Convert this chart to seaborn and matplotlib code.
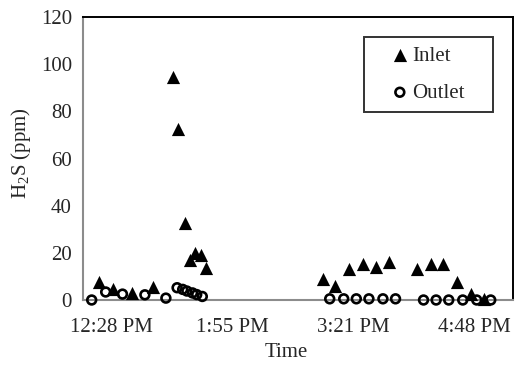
import pandas as pd
import matplotlib
matplotlib.use("Agg")
import matplotlib.pyplot as plt
import seaborn as sns

# H2S readings (clock time, ppm)
inlet_time = ["12:20", "12:30", "12:44", "12:59", "13:13", "13:17", "13:22", "13:25",
              "13:29", "13:33", "13:37", "15:00", "15:09", "15:19", "15:29", "15:38",
              "15:47", "16:07", "16:17", "16:26", "16:36", "16:46", "16:55"]
inlet_h2s = [7.6, 4.6, 3.0, 5.5, 94.5, 72.5, 32.6, 17, 20, 19, 13.5, 8.9, 5.9,
             13, 15.3, 14, 16, 13, 15.3, 15.3, 7.6, 2.5, 0.5]

outlet_time = ["12:15", "12:25", "12:37", "12:53", "13:08", "13:16", "13:20", "13:23",
               "13:27", "13:30", "13:34", "15:05", "15:15", "15:24", "15:33", "15:43",
               "15:52", "16:12", "16:21", "16:30", "16:40", "16:50", "17:00"]
outlet_h2s = [0, 3.4, 2.5, 2.2, 0.8, 5.2, 4.5, 3.8, 3.0, 2.3, 1.5, 0.5, 0.5, 0.5,
              0.5, 0.5, 0.5, 0, 0, 0, 0, 0, 0]

tick_minutes = [748.8, 835.2, 921.6, 1008.0]
tick_labels = ["12:28 PM", "1:55 PM", "3:21 PM", "4:48 PM"]
y_ticks = [0, 20, 40, 60, 80, 100, 120]


def to_minutes(times):
    return [int(t.split(":")[0]) * 60 + int(t.split(":")[1]) for t in times]


inlet = pd.DataFrame({"minutes": to_minutes(inlet_time), "h2s": inlet_h2s})
outlet = pd.DataFrame({"minutes": to_minutes(outlet_time), "h2s": outlet_h2s})

sns.set_style("white")
plt.rcParams["font.family"] = ["Liberation Serif", "DejaVu Serif"]
plt.rcParams["mathtext.fontset"] = "custom"
plt.rcParams["mathtext.rm"] = "Liberation Serif"
plt.rcParams["mathtext.it"] = "Liberation Serif:italic"

fig = plt.figure(figsize=(5.16, 3.66), dpi=100)
ax = fig.add_axes([83 / 516, 1 - 300 / 366, 430 / 516, 283 / 366])

sns.scatterplot(data=inlet, x="minutes", y="h2s", marker="^", s=90, color="black",
                edgecolor="black", linewidth=0, label="Inlet", ax=ax, zorder=4,
                clip_on=False)
sns.scatterplot(data=outlet, x="minutes", y="h2s", marker="o", s=40, facecolor="none",
                edgecolor="black", linewidth=1.9, label="Outlet", ax=ax, zorder=3,
                clip_on=False)

ax.set_xlim(728.8, 1035.9)
ax.set_ylim(0, 120)
ax.set_xticks(tick_minutes)
ax.set_xticklabels(tick_labels)
ax.set_yticks(y_ticks)
ax.tick_params(axis="x", length=0, pad=13, labelsize=15)
ax.tick_params(axis="y", length=0, pad=8, labelsize=15)

ax.set_xlabel("Time", fontsize=15)
ax.set_ylabel("H$_2$S (ppm)", fontsize=15)
ax.xaxis.set_label_coords(0.472, -0.152)
ax.yaxis.set_label_coords(-0.116, 0.52)

for side in ["left", "bottom"]:
    ax.spines[side].set_color("#8c8c8c")
    ax.spines[side].set_linewidth(1.5)
for side in ["top", "right"]:
    ax.spines[side].set_color("black")
    ax.spines[side].set_linewidth(1.4)

leg = ax.legend(loc="upper left", bbox_to_anchor=(0.653, 0.5, 0.3, 0.429), mode="expand",
                fontsize=15, frameon=True, fancybox=False, edgecolor="black",
                borderpad=0.43, handlelength=2.6, handletextpad=-0.72, labelspacing=0.84,
                borderaxespad=0)
leg.get_frame().set_linewidth(1.4)

plt.savefig("out.png", dpi=100)
